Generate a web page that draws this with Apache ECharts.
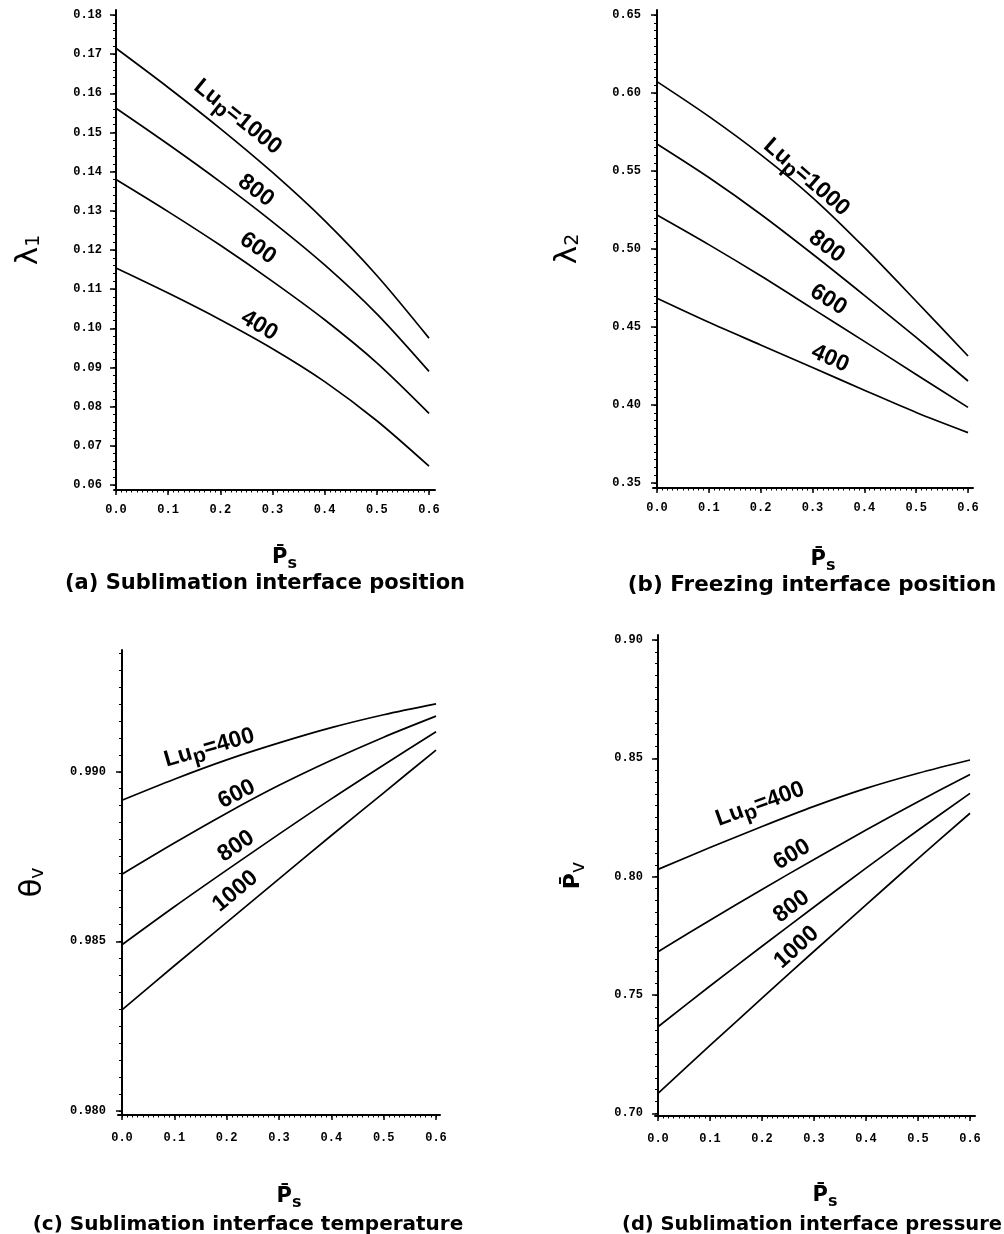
<!DOCTYPE html>
<html><head><meta charset="utf-8">
<script src="https://cdn.jsdelivr.net/npm/echarts@6/dist/echarts.min.js"></script>
<style>html,body{margin:0;padding:0;background:#fff}#c{width:1004px;height:1234px}</style>
</head><body><div id="c"></div>
<script>
// ---- data ----
const psValues = [0, 0.1, 0.2, 0.3, 0.4, 0.5, 0.6];
const lupLevels = [400, 600, 800, 1000];

// (a) lambda1
const lambda1_400  = [0.1154, 0.1090, 0.1022, 0.0948, 0.0864, 0.0764, 0.0648];
const lambda1_600  = [0.1380, 0.1298, 0.1212, 0.1120, 0.1022, 0.0912, 0.0783];
const lambda1_800  = [0.1562, 0.1470, 0.1374, 0.1272, 0.1162, 0.1037, 0.0890];
const lambda1_1000 = [0.1715, 0.1615, 0.1510, 0.1398, 0.1275, 0.1135, 0.0975];
// (b) lambda2
const lambda2_400  = [0.4684, 0.4530, 0.4385, 0.4240, 0.4095, 0.3952, 0.3823];
const lambda2_600  = [0.5218, 0.5028, 0.4828, 0.4618, 0.4408, 0.4196, 0.3985];
const lambda2_800  = [0.5673, 0.5458, 0.5223, 0.4968, 0.4703, 0.4433, 0.4154];
const lambda2_1000 = [0.6073, 0.5850, 0.5605, 0.5330, 0.5010, 0.4665, 0.4314];
// (c) theta_v
const thetaV_400  = [0.98916, 0.98978, 0.99035, 0.99085, 0.99130, 0.99168, 0.99200];
const thetaV_600  = [0.98698, 0.98790, 0.98878, 0.98960, 0.99034, 0.99102, 0.99164];
const thetaV_800  = [0.98490, 0.98602, 0.98710, 0.98816, 0.98920, 0.99020, 0.99118];
const thetaV_1000 = [0.98298, 0.98428, 0.98556, 0.98684, 0.98812, 0.98938, 0.99064];
// (d) Pv
const pv_400  = [0.8031, 0.8123, 0.8212, 0.8297, 0.8373, 0.8437, 0.8493];
const pv_600  = [0.7683, 0.7816, 0.7946, 0.8073, 0.8197, 0.8317, 0.8432];
const pv_800  = [0.7366, 0.7538, 0.7706, 0.7872, 0.8036, 0.8196, 0.8352];
const pv_1000 = [0.7085, 0.7287, 0.7487, 0.7685, 0.7881, 0.8076, 0.8268];

// tick labels
const xTickLabels = [0, 0.1, 0.2, 0.3, 0.4, 0.5, 0.6];
const yTicksA = [0.06, 0.07, 0.08, 0.09, 0.10, 0.11, 0.12, 0.13, 0.14, 0.15, 0.16, 0.17, 0.18];
const yTicksB = [0.35, 0.40, 0.45, 0.50, 0.55, 0.60, 0.65];
const yTicksC = [0.980, 0.985, 0.990];
const yTicksD = [0.70, 0.75, 0.80, 0.85, 0.90];

const captions = ['(a) Sublimation interface position', '(b) Freezing interface position',
                  '(c) Sublimation interface temperature', '(d) Sublimation interface pressure'];

// ---- helpers ----
function steps(a, b, s) { const out = []; const n = Math.round((b - a) / s); for (let i = 0; i <= n; i++) out.push(+(a + i * s).toFixed(6)); return out; }
function pairs(ys) { return psValues.map((x, i) => [x, ys[i]]); }
function lupText(v, first) { return first ? '{a|Lu}{b|p}{a|=' + v + '}' : '{a|' + v + '}'; }

const panels = [
  { grid: {left: 114, top: 10, width: 321, height: 480}, x: [-0.0038, 0.6115], y: [0.05872, 0.18128],
    yTicks: yTicksA, yMinor: steps(0.06, 0.18, 0.002), digits: 2,
    curves: [lambda1_400, lambda1_600, lambda1_800, lambda1_1000],
    yName: '{l|λ}{s|1}', yNameGap: 70, xNameGap: 54, labelMargin: 14,
    labels: [ {lv: 1000, x: 0.224, y: 0.1537, r: -39, first: true}, {lv: 800, x: 0.259, y: 0.1348, r: -37},
              {lv: 600, x: 0.263, y: 0.1200, r: -35}, {lv: 400, x: 0.266, y: 0.1001, r: -31} ],
    cap: [265, 584], capSize: 21 },
  { grid: {left: 653, top: 10, width: 320, height: 478}, x: [-0.0077, 0.6096], y: [0.3468, 0.6532],
    yTicks: yTicksB, yMinor: steps(0.35, 0.65, 0.005), digits: 2,
    curves: [lambda2_400, lambda2_600, lambda2_800, lambda2_1000],
    yName: '{l|λ}{s|2}', yNameGap: 70, xNameGap: 58, labelMargin: 14,
    labels: [ {lv: 1000, x: 0.279, y: 0.5455, r: -41, first: true}, {lv: 800, x: 0.318, y: 0.5006, r: -37},
              {lv: 600, x: 0.322, y: 0.466, r: -32}, {lv: 400, x: 0.327, y: 0.4276, r: -24} ],
    cap: [812, 585], capSize: 21.5 },
  { grid: {left: 118, top: 650, width: 322, height: 465}, x: [-0.0076, 0.6076], y: [0.97988, 0.99359],
    yTicks: yTicksC, yMinor: steps(0.980, 0.9935, 0.0005), digits: 3,
    curves: [thetaV_400, thetaV_600, thetaV_800, thetaV_1000],
    yName: '{l|θ}{s|v}', yNameGap: 70, xNameGap: 68, labelMargin: 17,
    labels: [ {lv: 400, x: 0.172, y: 0.99058, r: 16, first: true}, {lv: 600, x: 0.227, y: 0.98925, r: 27},
              {lv: 800, x: 0.227, y: 0.98775, r: 34}, {lv: 1000, x: 0.226, y: 0.98645, r: 40} ],
    cap: [248, 1225], capSize: 20 },
  { grid: {left: 655, top: 635, width: 320, height: 481}, x: [-0.0058, 0.6096], y: [0.6989, 0.9021],
    yTicks: yTicksD, yMinor: steps(0.70, 0.90, 0.005), digits: 2,
    curves: [pv_400, pv_600, pv_800, pv_1000],
    yName: '{p|P\u0304}{s|v}', yNameGap: 66, xNameGap: 66, labelMargin: 17,
    labels: [ {lv: 400, x: 0.2026, y: 0.829, r: 20, first: true}, {lv: 600, x: 0.266, y: 0.8083, r: 31},
              {lv: 800, x: 0.266, y: 0.7868, r: 37}, {lv: 1000, x: 0.276, y: 0.7699, r: 42} ],
    cap: [812, 1225], capSize: 19.5 }
];

const tickFont = {fontFamily: 'Liberation Mono', fontWeight: 'bold', fontSize: 12, color: '#000'};
const axisLine = {show: true, lineStyle: {color: '#000', width: 2}};
const xMinor = steps(0, 0.6, 0.01);
const labelLift = 5; // px, moves each curve label off its line along the text's "up" direction

const grids = [], xAxes = [], yAxes = [], series = [], graphics = [];
panels.forEach((p, i) => {
  grids.push(p.grid);
  xAxes.push({ type: 'value', gridIndex: i, position: 'bottom', min: p.x[0], max: p.x[1],
    axisLine: axisLine, splitLine: {show: false},
    axisTick: {show: true, length: 5, customValues: xTickLabels, lineStyle: {color: '#000', width: 1.5}},
    axisLabel: {show: true, customValues: xTickLabels, margin: p.labelMargin, formatter: v => v.toFixed(1), ...tickFont},
    name: '{p|P\u0304}{s|s}', nameLocation: 'middle', nameGap: p.xNameGap,
    nameTextStyle: {padding: [0, 0, 0, 20], color: '#000',
      rich: {p: {fontFamily: 'DejaVu Sans', fontWeight: 'bold', fontSize: 21, color: '#000'},
             s: {fontFamily: 'DejaVu Sans', fontWeight: 'bold', fontSize: 16, color: '#000', padding: [12, 0, 0, 0]}}}
  });
  xAxes.push({ type: 'value', gridIndex: i, position: 'bottom', min: p.x[0], max: p.x[1],
    axisLine: {show: false}, splitLine: {show: false}, axisLabel: {show: false},
    axisTick: {show: true, length: 2.5, customValues: xMinor, lineStyle: {color: '#000', width: 1}} });
  yAxes.push({ type: 'value', gridIndex: i, position: 'left', min: p.y[0], max: p.y[1],
    axisLine: axisLine, splitLine: {show: false},
    axisTick: {show: true, length: 6, customValues: p.yTicks, lineStyle: {color: '#000', width: 1.5}},
    axisLabel: {show: true, customValues: p.yTicks, margin: 12, formatter: v => v.toFixed(p.digits), ...tickFont},
    name: p.yName, nameLocation: 'middle', nameGap: p.yNameGap,
    nameTextStyle: {color: '#000',
      rich: {l: {fontFamily: 'DejaVu Sans', fontSize: 31, color: '#000'},
             p: {fontFamily: 'DejaVu Sans', fontWeight: 'bold', fontSize: 22, color: '#000'},
             s: {fontFamily: 'DejaVu Sans', fontSize: 19, color: '#000', padding: [12, 0, 0, 0]}}}
  });
  yAxes.push({ type: 'value', gridIndex: i, position: 'left', min: p.y[0], max: p.y[1],
    axisLine: {show: false}, splitLine: {show: false}, axisLabel: {show: false},
    axisTick: {show: true, length: 3, customValues: p.yMinor, lineStyle: {color: '#000', width: 1}} });

  p.curves.forEach((ys, k) => {
    series.push({ type: 'line', name: 'Lup=' + lupLevels[k], xAxisIndex: 2 * i, yAxisIndex: 2 * i,
      data: pairs(ys), showSymbol: false, symbol: 'none', smooth: 0.3, animation: false, silent: true,
      lineStyle: {color: '#000', width: 1.7} });
  });
  series.push({ type: 'scatter', xAxisIndex: 2 * i, yAxisIndex: 2 * i, symbolSize: 0, silent: true, animation: false,
    itemStyle: {opacity: 1, color: '#000'},
    data: p.labels.map(l => {
      const rad = l.r * Math.PI / 180;
      return { value: [l.x, l.y],
        label: {show: true, position: 'inside', rotate: l.r, formatter: lupText(l.lv, l.first),
                offset: [-Math.sin(rad) * labelLift, -Math.cos(rad) * labelLift]} };
    }),
    label: {color: '#000', opacity: 1, textBorderWidth: 0, textBorderColor: 'transparent', rich: {
      a: {fontFamily: 'Liberation Sans', fontWeight: 'bold', fontSize: 23, color: '#000', textBorderWidth: 0},
      b: {fontFamily: 'Liberation Sans', fontWeight: 'bold', fontSize: 21, color: '#000', textBorderWidth: 0, padding: [11, 0, 0, 0]} }},
    z: 5 });

  graphics.push({ type: 'text', x: p.cap[0], y: p.cap[1],
    style: {text: captions[i], font: 'bold ' + p.capSize + 'px "DejaVu Sans"', fill: '#000',
            textAlign: 'center', textVerticalAlign: 'middle', align: 'center', verticalAlign: 'middle'} });
});

const chart = echarts.init(document.getElementById('c'), null, {renderer: 'canvas'});
chart.setOption({
  backgroundColor: '#fff', animation: false,
  grid: grids, xAxis: xAxes, yAxis: yAxes, series: series, graphic: graphics
});
</script></body></html>
